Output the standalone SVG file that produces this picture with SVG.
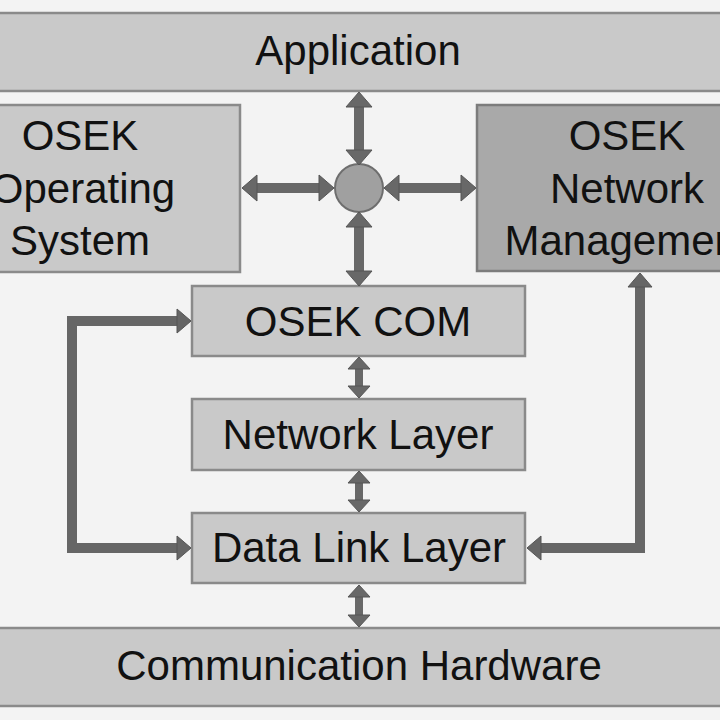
<svg xmlns="http://www.w3.org/2000/svg" width="720" height="720" viewBox="0 0 720 720">
<style>
.box{fill:#c9c9c9;stroke:#8a8a8a;stroke-width:2.5}
.dark{fill:#a9a9a9;stroke:#7c7c7c;stroke-width:2.5}
.t{font-family:"Liberation Sans",Arial,sans-serif;font-size:42px;fill:#111;text-anchor:middle}
.a{fill:none;stroke:#686868;stroke-width:10}
.s{fill:none;stroke:#686868;stroke-width:8}
.l{fill:none;stroke:#666;stroke-width:10;stroke-linejoin:miter}
</style>
<defs>
<marker id="hb" markerUnits="userSpaceOnUse" markerWidth="16" markerHeight="28" refX="0" refY="14" orient="auto-start-reverse" overflow="visible">
<path d="M0,1 L15,14 L0,27 z" fill="#686868" stroke="#555" stroke-width="1"/>
</marker>
<marker id="hs" markerUnits="userSpaceOnUse" markerWidth="13" markerHeight="24" refX="0" refY="12" orient="auto-start-reverse" overflow="visible">
<path d="M0,1 L12,12 L0,23 z" fill="#686868" stroke="#555" stroke-width="1"/>
</marker>
<marker id="hl" markerUnits="userSpaceOnUse" markerWidth="15" markerHeight="26" refX="0" refY="13" orient="auto-start-reverse" overflow="visible">
<path d="M0,1 L14,13 L0,25 z" fill="#666" stroke="#555" stroke-width="1"/>
</marker>
</defs>
<rect width="720" height="720" fill="#f3f3f3"/>
<g id="application">
<rect class="box" x="-10" y="13" width="740" height="78"/>
<text class="t" x="358" y="65">Application</text>
</g>
<g id="osek-os">
<rect class="box" x="-80" y="105" width="320" height="167"/>
<text class="t" x="80" y="150">OSEK</text>
<text class="t" x="83" y="203">Operating</text>
<text class="t" x="80" y="255">System</text>
</g>
<g id="osek-nm">
<rect class="dark" x="477" y="105" width="300" height="166"/>
<text class="t" x="627" y="150">OSEK</text>
<text class="t" x="627" y="203">Network</text>
<text class="t" x="627" y="255">Management</text>
</g>
<g id="hub">
<circle cx="359" cy="188" r="24" fill="#a0a0a0" stroke="#6e6e6e" stroke-width="2"/>
</g>
<g id="osek-com">
<rect class="box" x="192" y="286" width="333" height="70"/>
<text class="t" x="358" y="336">OSEK COM</text>
</g>
<g id="network-layer">
<rect class="box" x="192" y="399" width="333" height="71"/>
<text class="t" x="358" y="449">Network Layer</text>
</g>
<g id="data-link-layer">
<rect class="box" x="192" y="513" width="333" height="70"/>
<text class="t" x="359" y="562">Data Link Layer</text>
</g>
<g id="comm-hardware">
<rect class="box" x="-10" y="628" width="740" height="78"/>
<text class="t" x="359" y="680">Communication Hardware</text>
</g>
<g id="connectors">
<line class="a" x1="359" y1="107" x2="359" y2="150" marker-start="url(#hb)" marker-end="url(#hb)"/>
<line class="a" x1="359" y1="227" x2="359" y2="271" marker-start="url(#hb)" marker-end="url(#hb)"/>
<line class="a" x1="257" y1="188" x2="319" y2="188" marker-start="url(#hb)" marker-end="url(#hb)"/>
<line class="a" x1="399" y1="188" x2="461" y2="188" marker-start="url(#hb)" marker-end="url(#hb)"/>
<line class="s" x1="359" y1="369" x2="359" y2="386" marker-start="url(#hs)" marker-end="url(#hs)"/>
<line class="s" x1="359" y1="483" x2="359" y2="500" marker-start="url(#hs)" marker-end="url(#hs)"/>
<line class="s" x1="359" y1="597" x2="359" y2="615" marker-start="url(#hs)" marker-end="url(#hs)"/>
<path class="l" d="M177,321 H72 V548 H177" marker-start="url(#hl)" marker-end="url(#hl)"/>
<path class="l" d="M541,548 H640 V287" marker-start="url(#hl)" marker-end="url(#hl)"/>
</g>
</svg>
